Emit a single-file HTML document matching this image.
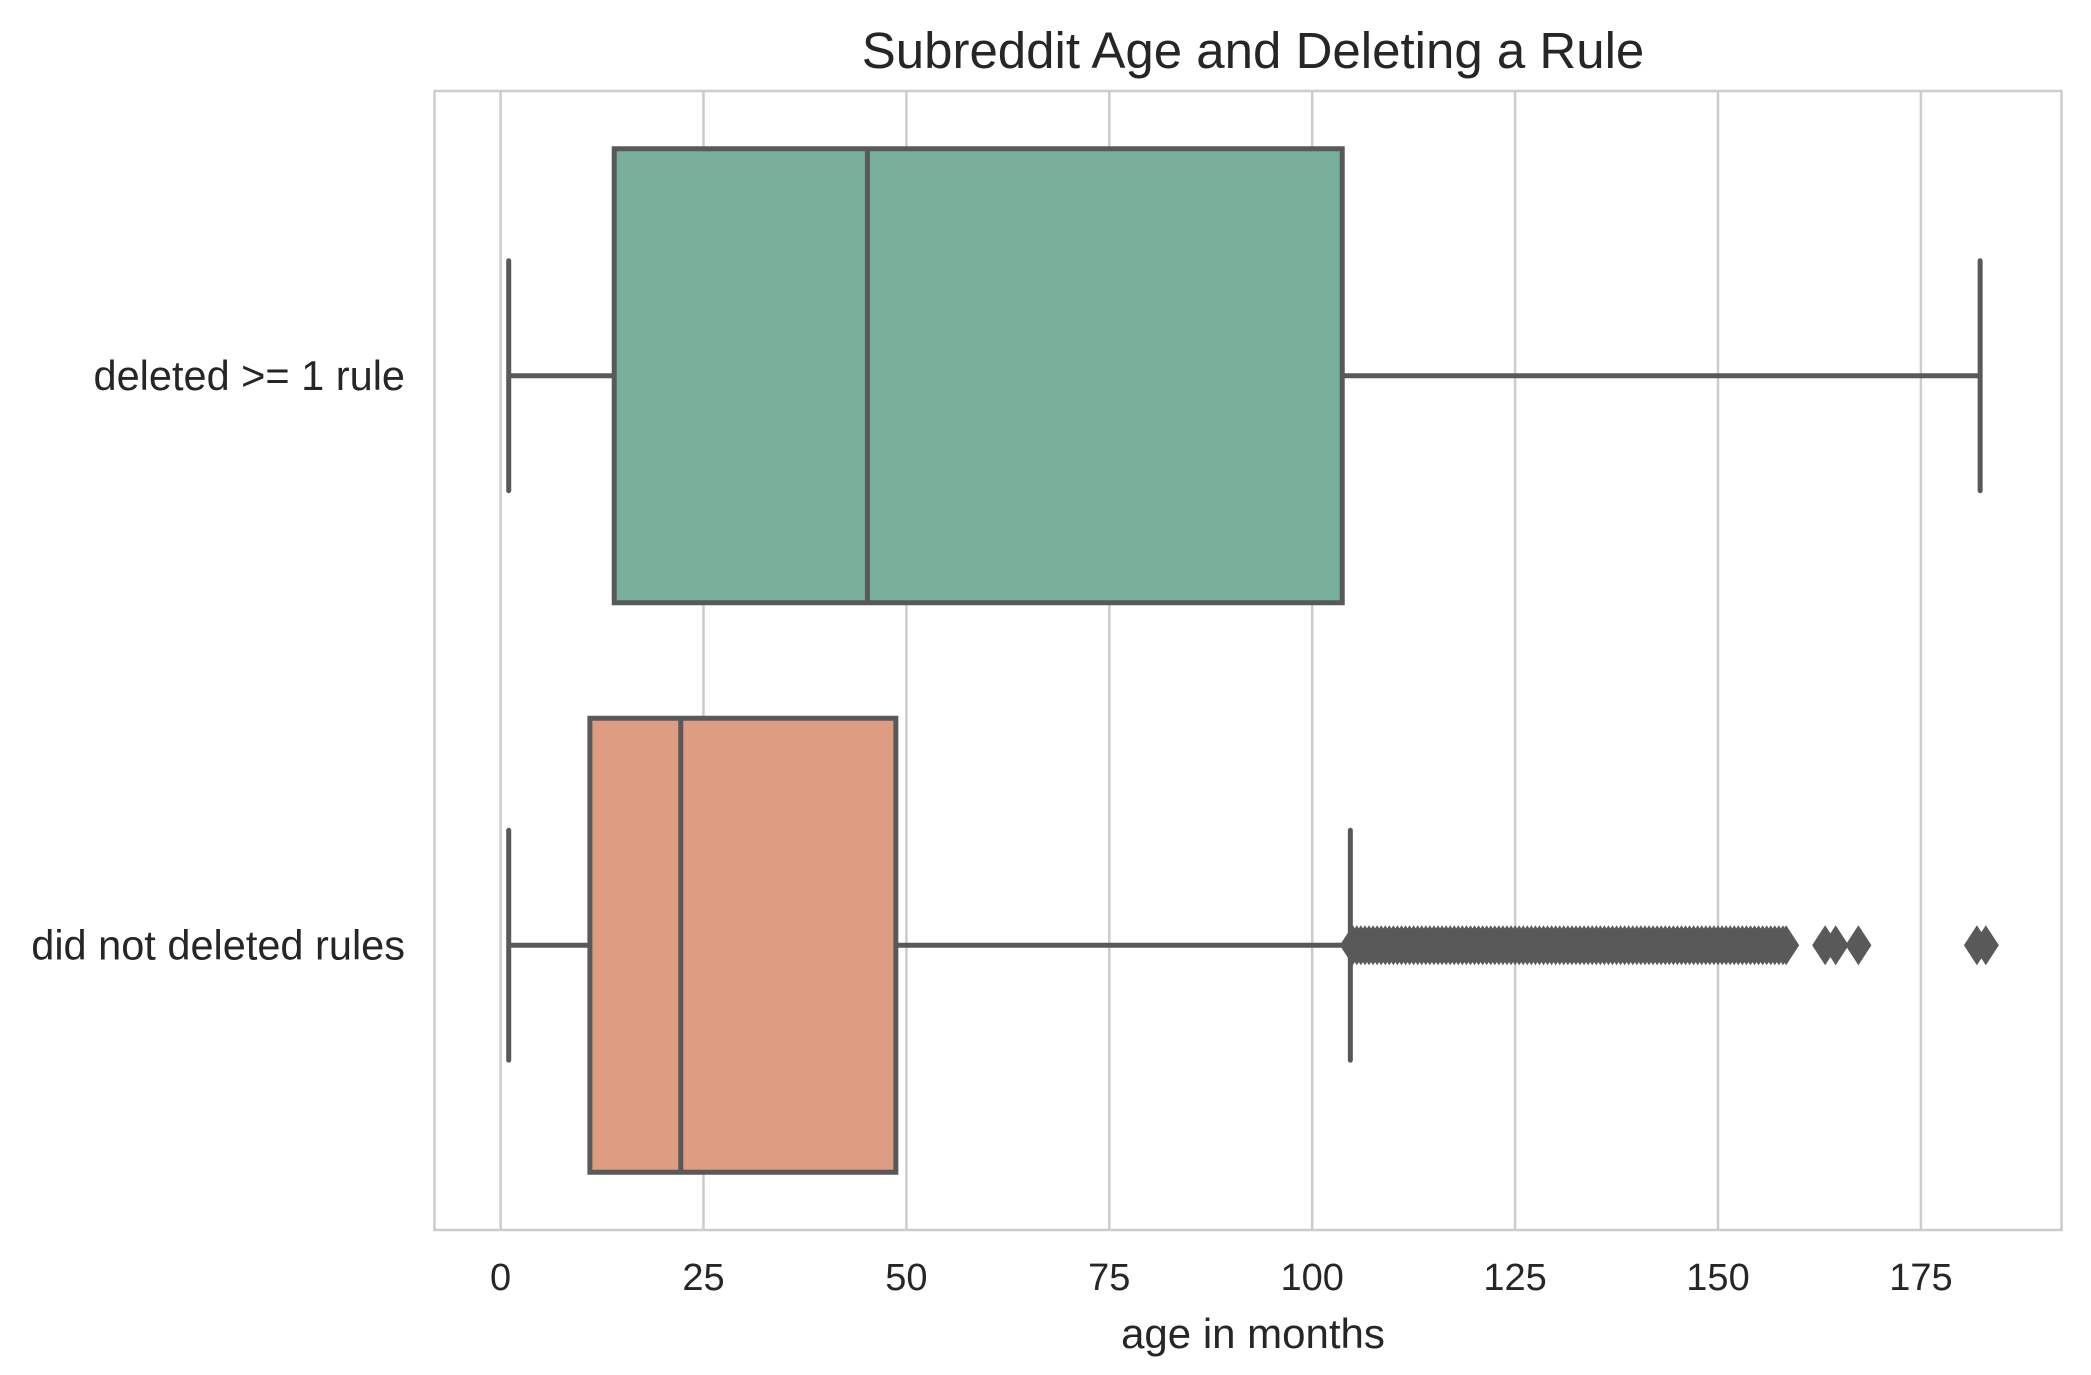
<!DOCTYPE html>
<html><head><meta charset="utf-8"><style>
html,body{margin:0;padding:0;background:#fff;}
svg{display:block;font-family:"Liberation Sans",Arial,sans-serif;}
</style></head><body>
<svg id="chart" width="2091" height="1375" viewBox="0 0 2091 1375" xmlns="http://www.w3.org/2000/svg">
<rect x="0" y="0" width="2091" height="1375" fill="#fff"/>
<g id="grid"></g>
<rect x="434.5" y="91" width="1627" height="1139" fill="none" stroke="#cccccc" stroke-width="2.5"/>
<g id="ticks"></g>
<g id="ylabels"></g>
<g id="boxes"></g>
<text x="1253" y="68" font-size="51" fill="#262626" text-anchor="middle">Subreddit Age and Deleting a Rule</text>
<text x="1253" y="1348" font-size="42" fill="#262626" text-anchor="middle">age in months</text>
</svg>
<script>
const categories = ["deleted >= 1 rule", "did not deleted rules"];
const whiskerLow = [1, 1];
const q1 = [14, 11];
const median = [45.2, 22.2];
const q3 = [103.7, 48.7];
const whiskerHigh = [182.3, 104.7];
const fills = ["#78b09c", "#de9c82"];
const outliers1 = [105,105.5,106,106.5,107,107.5,108,108.5,109,109.5,110,110.5,111,111.5,112,112.5,113,113.5,114,114.5,115,115.5,116,116.5,117,117.5,118,118.5,119,119.5,120,120.5,121,121.5,122,122.5,123,123.5,124,124.5,125,125.5,126,126.5,127,127.5,128,128.5,129,129.5,130,130.5,131,131.5,132,132.5,133,133.5,134,134.5,135,135.5,136,136.5,137,137.5,138,138.5,139,139.5,140,140.5,141,141.5,142,142.5,143,143.5,144,144.5,145,145.5,146,146.5,147,147.5,148,148.5,149,149.5,150,150.5,151,151.5,152,152.5,153,153.5,154,154.5,155,155.5,156,156.5,157,157.5,158,158.4,163.2,164.5,167.3,181.9,183];
const outliers = [[], outliers1];
const xTicks = [0, 25, 50, 75, 100, 125, 150, 175];

const NS = "http://www.w3.org/2000/svg";
const X0 = 500.6, PX = 8.116;
function xs(v){ return X0 + v * PX; }
const AX_TOP = 91, AX_H = 1139;
function ys(i){ return AX_TOP + AX_H * (i + 0.5) / categories.length; }
function mk(tag, attrs, parent){
  const e = document.createElementNS(NS, tag);
  for (const k in attrs) e.setAttribute(k, attrs[k]);
  parent.appendChild(e);
  return e;
}
const grid = document.getElementById('grid');
const ticks = document.getElementById('ticks');
xTicks.forEach(t => {
  const l = mk('line', {x1: xs(t), x2: xs(t), y1: AX_TOP, y2: AX_TOP + AX_H, stroke: '#cccccc', 'stroke-width': 2.5}, grid);
  
  
  const tx = mk('text', {x: xs(t), y: 1290, 'font-size': 38, fill: '#262626', 'text-anchor': 'middle'}, ticks);
  tx.textContent = t;
  
  
});
const yl = document.getElementById('ylabels');
const boxes = document.getElementById('boxes');
const EC = '#595959', LW = 5, HALF = 227, CAP = 115, DW = 13, DH = 20;
categories.forEach((c, i) => {
  const cy = ys(i);
  const t = mk('text', {x: 405, y: cy + 14, 'font-size': 41.5, fill: '#262626', 'text-anchor': 'end'}, yl);
  t.textContent = c;
  
  
  const g = mk('g', {}, boxes);
  
  
  const w1 = mk('line', {x1: xs(whiskerLow[i]), x2: xs(q1[i]), y1: cy, y2: cy, stroke: EC, 'stroke-width': LW}, g);
  
  
  const w2 = mk('line', {x1: xs(q3[i]), x2: xs(whiskerHigh[i]), y1: cy, y2: cy, stroke: EC, 'stroke-width': LW}, g);
  
  
  const c1 = mk('line', {x1: xs(whiskerLow[i]), x2: xs(whiskerLow[i]), y1: cy - CAP, y2: cy + CAP, stroke: EC, 'stroke-width': LW, 'stroke-linecap': 'round'}, g);
  
  
  const c2 = mk('line', {x1: xs(whiskerHigh[i]), x2: xs(whiskerHigh[i]), y1: cy - CAP, y2: cy + CAP, stroke: EC, 'stroke-width': LW, 'stroke-linecap': 'round'}, g);
  
  
  const r = mk('rect', {x: xs(q1[i]), y: cy - HALF, width: xs(q3[i]) - xs(q1[i]), height: 2 * HALF, fill: fills[i], stroke: EC, 'stroke-width': LW}, g);
  
  
  const m = mk('line', {x1: xs(median[i]), x2: xs(median[i]), y1: cy - HALF, y2: cy + HALF, stroke: EC, 'stroke-width': LW}, g);
  
  
  outliers[i].forEach(v => {
    const x = xs(v);
    const p = mk('polygon', {points: `${x},${cy-DH} ${x+DW},${cy} ${x},${cy+DH} ${x-DW},${cy}`, fill: EC}, g);
    
    
  });
});
</script>
</body></html>
